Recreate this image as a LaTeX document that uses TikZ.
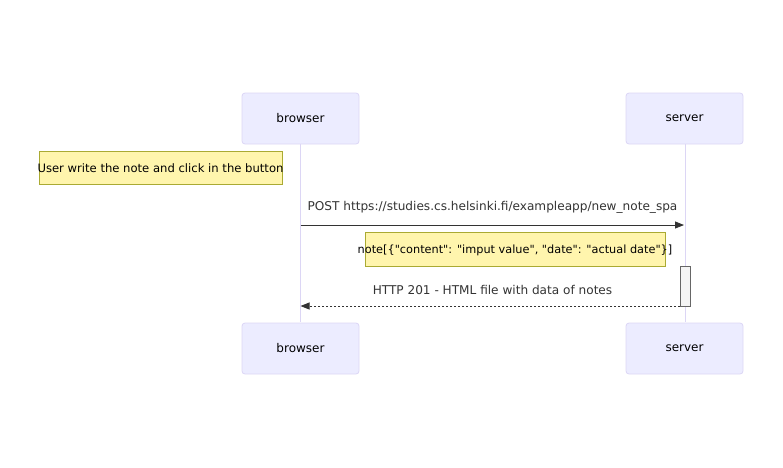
\documentclass[tikz,border=0pt]{standalone}
\usepackage{fontspec}
\setmainfont{DejaVu Sans}[Ligatures=TeXOff]
\usetikzlibrary{arrows.meta}
\definecolor{actfill}{HTML}{ECECFF}
\definecolor{actline}{HTML}{DCD6F5}
\definecolor{notefill}{HTML}{FFF5AD}
\definecolor{noteline}{HTML}{AAAA33}
\definecolor{msgcol}{HTML}{333333}
\definecolor{actvfill}{HTML}{F4F4F4}
\definecolor{actvline}{HTML}{666666}
\tikzset{
  actor/.style={draw=actline, fill=actfill, rounded corners=3pt, minimum width=117pt, minimum height=51pt, inner sep=0pt, font=\fontsize{12}{14}\selectfont, line width=0.8pt},
  lifeline/.style={draw=actline, line width=1pt},
  notebox/.style={draw=noteline, fill=notefill, line width=0.8pt},
  notetext/.style={inner sep=0pt},
  msg/.style={draw=msgcol, line width=0.9pt, -{Triangle[length=9pt,width=7pt]}},
  msgtext/.style={font=\fontsize{12.1}{14}\selectfont, text=msgcol, inner sep=0pt},
  activ/.style={draw=actvline, fill=actvfill, line width=0.8pt}
}
\begin{document}
\begin{tikzpicture}[x=1pt,y=-1pt]
\useasboundingbox (0,0) rectangle (783,467);
% lifelines
\coordinate (bl1) at (300.5,143);
\coordinate (bl2) at (300.5,322);
\coordinate (sl1) at (685,143);
\coordinate (sl2) at (685,322);
\draw[lifeline] (bl1) -- (bl2);
\draw[lifeline] (sl1) -- (sl2);
% actors
\node[actor] (btop) at (300.5,118.5) {browser};
\node[actor] (stop) at (684.5,118.5) {server};
\node[actor] (bbot) at (300.5,348.5) {browser};
\node[actor] (sbot) at (684.5,348.5) {server};
% note 1
\node[notebox, minimum width=243pt, minimum height=33pt, inner sep=0pt] (n1) at (160.5,167.5) {};
\node[notetext, font=\fontsize{11.6}{14}\selectfont] (n1t) at (160.5,168.5) {User write the note and click in the button};
% POST message
\coordinate (p1) at (300.5,225);
\coordinate (p2) at (684,225);
\draw[msg] (p1) -- (p2);
\node[msgtext] (post) at (492.5,207.5) {POST https://studies.cs.helsinki.fi/exampleapp/new\_note\_spa};
% note 2
\node[notebox, minimum width=300pt, minimum height=34pt, inner sep=0pt] (n2) at (515,249) {};
\node[notetext, font=\fontsize{11.3}{14}\selectfont] (n2t) at (515,250) {note[\{"content": "imput value", "date": "actual date"\}]};
% activation
\node[activ, minimum width=10pt, minimum height=40pt, inner sep=0pt] (act) at (685,286) {};
% response
\coordinate (r1) at (680,306);
\coordinate (r2) at (300.5,306);
\draw[msg, dashed, dash pattern=on 2pt off 2pt] (r1) -- (r2);
\node[msgtext] (resp) at (492.5,289.5) {HTTP 201 - HTML file with data of notes};
\end{tikzpicture}
\end{document}
